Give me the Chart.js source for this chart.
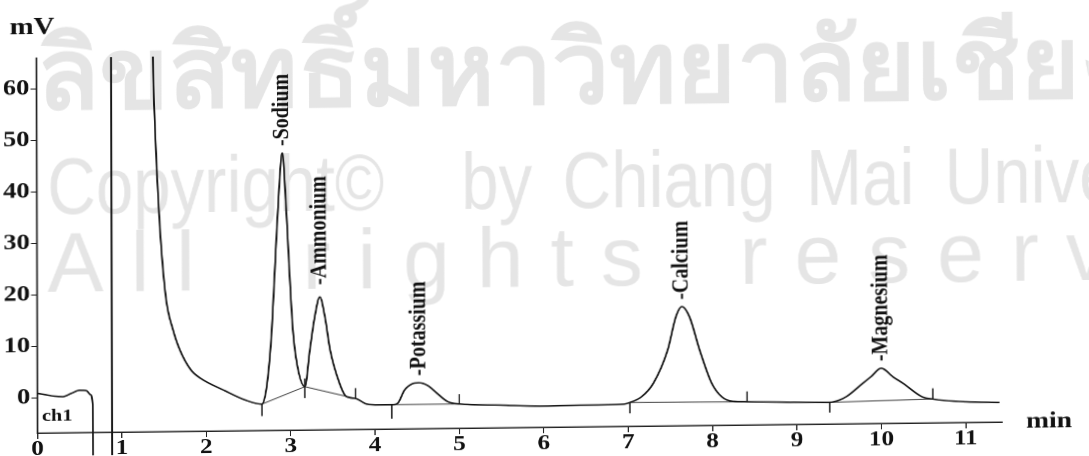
<!DOCTYPE html>
<html>
<head>
<meta charset="utf-8">
<script src="https://cdn.jsdelivr.net/npm/chart.js@4.4.0/dist/chart.umd.min.js"></script>
<style>
  html, body { margin: 0; padding: 0; background: #fff; overflow: hidden; }
  /* the scan is stretched sideways and a little skewed, so the canvas is too */
  #wrap { position: absolute; left: 0; top: 0; width: 908px; height: 456px;
          transform-origin: 0 0; transform: matrix(1.2, -0.0137, 0.003, 1, -1.3, 0.4); }
</style>
</head>
<body>
<div id="wrap"><canvas id="chrom" width="908" height="456"></canvas></div>
<script>
const xTicks = [0, 1, 2, 3, 4, 5, 6, 7, 8, 9, 10, 11];
const yTicks = [0, 10, 20, 30, 40, 50, 60];

// detector trace, retention time (min) / signal (mV)
const traceTime = [0.00, 0.10, 0.20, 0.30, 0.40, 0.50, 0.58, 0.63, 0.655, 0.66,
  0.883, 0.884, 1.37, 1.38, 1.40, 1.44, 1.475, 1.53, 1.61, 1.69, 1.82, 1.93, 2.22, 2.46,
  2.66, 2.72, 2.78, 2.83, 2.87, 2.91, 2.95, 2.99, 3.03, 3.08, 3.17,
  3.23, 3.29, 3.35, 3.41, 3.47, 3.58, 3.66, 3.77, 3.90, 4.05,
  4.20, 4.27, 4.35, 4.44, 4.52, 4.63, 4.73, 4.86, 5.00, 5.48, 5.95, 6.43,
  6.95, 7.02, 7.16, 7.30, 7.47, 7.57, 7.64, 7.73, 7.85, 7.99, 8.11, 8.24, 8.41, 8.92,
  9.39, 9.50, 9.59, 9.78, 9.88, 10.00, 10.14, 10.26, 10.48, 10.61, 11.00, 11.40];
const traceMv = [0.9, 0.6, 0.3, 0.2, 0.8, 1.4, 1.3, 0.5, -1.5, -20,
  -20, 100, 80, 65.8, 53.7, 38.2, 28.5, 18.7, 12.9, 9.0, 5.1, 3.5, 1.0, -0.85,
  -1.7, 2.0, 12.7, 28.2, 39.8, 47.0, 37.9, 24.3, 12.6, 5.8, 1.6,
  8.7, 15.2, 19.0, 15.1, 8.7, 2.2, -0.4, -0.8, -1.9, -2.1,
  -2.1, -1.8, 0.7, 1.9, 2.1, 1.5, 0.1, -1.6, -2.1, -2.4, -2.7, -2.6,
  -2.5, -2.2, -1.1, 1.5, 7.9, 14.4, 16.3, 14.3, 7.8, 1.4, -1.3, -2.2, -2.3, -2.5,
  -2.6, -2.2, -1.5, 1.0, 2.3, 3.9, 2.2, 0.9, -1.7, -2.2, -2.8, -3.0];

// integration baselines under the peaks (null = break)
const baseTime = [2.66, 3.17, 3.77, null, 4.20, 5.00, null, 7.02, 8.41, null, 9.39, 10.61];
const baseMv = [-1.7, 1.6, -0.8, null, -2.1, -2.1, null, -2.2, -2.3, null, -2.6, -2.2];

// peak start / end marks
const markTime = [2.66, 3.17, 3.77, 4.20, 5.00, 7.02, 8.41, 9.39, 10.61];
const markTop = [-1.7, 3.2, 1.2, -2.1, -0.2, -2.2, -0.3, -2.6, -0.1];
const markBottom = [-4.0, -0.6, -0.8, -4.8, -2.1, -4.3, -2.3, -4.6, -2.2];

// named peaks
const peakNames = ["Sodium", "Ammonium", "Potassium", "Calcium", "Magnesium"];
const peakTimes = [2.91, 3.35, 4.52, 7.64, 10.00];
const peakMv = [47.0, 19.0, 2.1, 16.3, 3.9];

const trace = traceTime.map((t, i) => ({ x: t, y: traceMv[i] }));
const baseline = baseTime.map((t, i) => ({ x: t === null ? baseTime[i - 1] : t, y: baseMv[i] }));
const marks = [];
markTime.forEach((t, i) => {
  marks.push({ x: t, y: markTop[i] }, { x: t, y: markBottom[i] }, { x: t, y: null });
});

const serif = '"Liberation Serif", "Times New Roman", serif';

// faint copyright watermark behind the plot
const watermark = {
  id: "watermark",
  beforeDraw(chart) {
    const ctx = chart.ctx;
    ctx.save();
    ctx.scale(1 / 1.2, 1);
    ctx.fillStyle = "#e5e5e5";
    ctx.textBaseline = "alphabetic";
    ctx.save();
    ctx.scale(1.02, 1);
    ctx.font = 'bold 100px "Noto Sans", "DejaVu Sans", sans-serif';
    ctx.fillText("ลิขสิทธิ์มหาวิทยาลัยเชียงใหม่", 38 / 1.02, 109);
    ctx.restore();
    ctx.save();
    ctx.scale(0.84, 1);
    ctx.font = '80px "Liberation Sans", Arial, sans-serif';
    ctx.fillText("Copyright©", 48 / 0.84, 214);
    ctx.wordSpacing = "14px";
    ctx.fillText("by Chiang Mai University", 462 / 0.84, 214);
    ctx.restore();
    ctx.letterSpacing = "27px";
    ctx.font = '84px "Liberation Sans", Arial, sans-serif';
    ctx.fillText("All", 48, 292);
    ctx.fillText("rights", 303, 292);
    ctx.fillText("reserved", 740, 292);
    ctx.restore();
  }
};

// axis names, channel tag and the peak names over each peak
const labels = {
  id: "labels",
  afterDraw(chart) {
    const ctx = chart.ctx;
    const xs = chart.scales.x, ys = chart.scales.y;
    ctx.save();
    ctx.fillStyle = "#111";
    ctx.textBaseline = "alphabetic";
    ctx.font = "bold 24px " + serif;
    ctx.fillText("mV", 9, 34);
    ctx.font = "bold 23px " + serif;
    ctx.fillText("min", 855, 439);
    ctx.font = "bold 17px " + serif;
    ctx.fillText("ch1", 35, 421);
    ctx.font = "bold 20px " + serif;
    ctx.textBaseline = "middle";
    peakNames.forEach((name, i) => {
      const px = xs.getPixelForValue(peakTimes[i]);
      const py = ys.getPixelForValue(peakMv[i]);
      ctx.save();
      ctx.translate(px, py - (i === 1 ? 12 : 7));
      ctx.rotate(-Math.PI / 2);
      ctx.fillText("-" + name, 0, 0);
      ctx.restore();
    });
    ctx.restore();
  }
};

new Chart(document.getElementById("chrom"), {
  type: "line",
  data: {
    datasets: [
      {
        data: trace,
        borderColor: "#151515",
        borderWidth: 1.5,
        pointRadius: 0,
        cubicInterpolationMode: "monotone",
        clip: { left: 0, top: 0, right: 0, bottom: false }
      },
      {
        data: baseline,
        borderColor: "#444",
        borderWidth: 1,
        pointRadius: 0,
        tension: 0
      },
      {
        data: marks,
        borderColor: "#222",
        borderWidth: 1.2,
        pointRadius: 0,
        tension: 0
      }
    ]
  },
  options: {
    responsive: false,
    animation: false,
    devicePixelRatio: 2,
    layout: { padding: { top: 58, right: 73, left: 0, bottom: 0 } },
    plugins: { legend: { display: false }, tooltip: { enabled: false } },
    scales: {
      x: {
        type: "linear",
        min: 0,
        max: 11.43,
        afterBuildTicks: (s) => { s.ticks = xTicks.map((v) => ({ value: v })); },
        afterFit: (s) => { s.height = 23; },
        grid: { drawOnChartArea: false, drawTicks: true, tickLength: 6, color: "#222", lineWidth: 1 },
        border: { color: "#222", width: 1.5 },
        ticks: { color: "#111", padding: -2, autoSkip: false, maxRotation: 0,
                 font: { family: serif, size: 21, weight: "bold" } }
      },
      y: {
        type: "linear",
        min: -6.8,
        max: 66,
        afterBuildTicks: (s) => { s.ticks = yTicks.map((v) => ({ value: v })); },
        afterFit: (s) => { s.width = 31.25; },
        grid: { drawOnChartArea: false, drawTicks: true, tickLength: 5, color: "#222", lineWidth: 1 },
        border: { color: "#222", width: 1.5 },
        ticks: { color: "#111", padding: 1,
                 font: { family: serif, size: 22, weight: "bold" } }
      }
    }
  },
  plugins: [watermark, labels]
});
</script>
</body>
</html>
